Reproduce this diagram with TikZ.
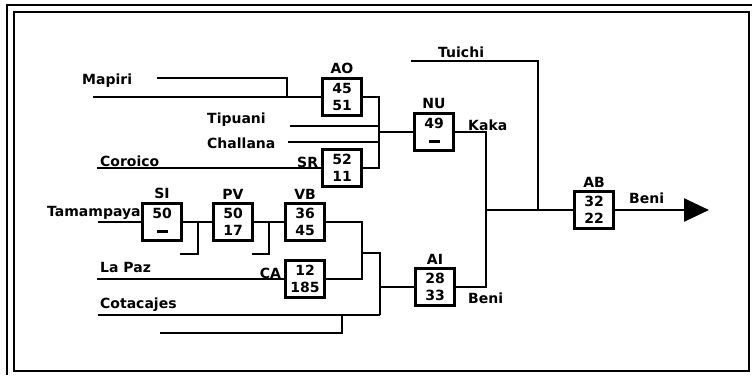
\documentclass[tikz,border=0pt]{standalone}
\usepackage{fontspec}
\newfontfamily\diagfont{DejaVu Sans}
\usetikzlibrary{arrows.meta, calc, positioning}

\begin{document}
\begin{tikzpicture}[x=1pt,y=-1pt,font=\diagfont\bfseries\fontsize{14}{17}\selectfont,
    river/.style={line width=2.5pt},
    gauge/.style={draw,line width=2.5pt,minimum width=39pt,minimum height=37pt,inner sep=0pt,align=center},
    tag/.style={inner sep=0pt}]
\useasboundingbox (0,0) rectangle (752,375);
\draw[line width=2.2pt] (7,375) -- (7,5) -- (752,5);
\draw[line width=2.6pt] (14,12) rectangle (749,371);

%
\node[gauge] (ao) at (342,97) {45\\51};
\node[gauge] (sr) at (342,168) {52\\11};
\node[gauge] (nu) at (434,132) {49\\\rule[3pt]{11pt}{2.2pt}};
\node[gauge] (si) at (162,222) {50\\\rule[3pt]{11pt}{2.2pt}};
\node[gauge] (pv) at (233,222) {50\\17};
\node[gauge] (vb) at (305,222) {36\\45};
\node[gauge] (ca) at (305,279) {12\\185};
\node[gauge] (ai) at (435,287) {28\\33};
\node[gauge] (ab) at (594,210) {32\\22};

%
\node[tag,above=3pt of ao] (aoN) {AO};
\node[tag,left=3pt of sr.west,yshift=6pt] (srN) {SR};
\node[tag,above=3pt of nu] (nuN) {NU};
\node[tag,above=3pt of si] (siN) {SI};
\node[tag,above=3pt of pv] (pvN) {PV};
\node[tag,above=3pt of vb] (vbN) {VB};
\node[tag,left=3pt of ca.west,yshift=6pt] (caN) {CA};
\node[tag,above=3pt of ai] (aiN) {AI};
\node[tag,above=3pt of ab] (abN) {AB};

%
\node[tag,anchor=west] (mapiriL) at (82,81) {Mapiri};
\node[tag,anchor=west] (tipuaniL) at (207,120) {Tipuani};
\node[tag,anchor=west] (challanaL) at (207,143) {Challana};
\node[tag,anchor=west] (coroicoL) at (100,161) {Coroico};
\node[tag,anchor=west] (tamampayaL) at (47,213) {Tamampaya};
\node[tag,anchor=west] (lapazL) at (100,267) {La Paz};
\node[tag,anchor=west] (cotacajesL) at (100,305) {Cotacajes};
\node[tag,anchor=west] (tuichiL) at (438,52) {Tuichi};
\node[tag,anchor=west] (kakaL) at (468,125) {Kaka};
\node[tag,anchor=west] (beniL) at (468,298) {Beni};
\node[tag,anchor=west] (beniL2) at (629,198) {Beni};

%
\coordinate (mapiri) at (93,97);
\coordinate (mapiri2) at (157,78);
\coordinate (mapiriJ) at (287,97);
\coordinate (tipuani) at (290,126);
\coordinate (challana) at (288,142);
\coordinate (coroico) at (97,168);
\coordinate (aoJ) at (379,132);
\coordinate (tuichi) at (411,61);
\coordinate (tuichiJ) at (538,210);
\coordinate (kakaJ) at (486,210);
\coordinate (outlet) at (709,210);
\coordinate (tamampaya) at (98,222);
\coordinate (siB) at (180,254);
\coordinate (siJ) at (198,222);
\coordinate (pvB) at (252,254);
\coordinate (pvJ) at (269,222);
\coordinate (lapaz) at (97,279);
\coordinate (vbJ) at (362,253);
\coordinate (cotJ) at (380,315);
\coordinate (cotacajes) at (98,315);
\coordinate (cotB) at (160,333);
\coordinate (cotBJ) at (342,315);

%
\draw[river] (mapiri) -- (ao.west);
\draw[river] (mapiri2) -| (mapiriJ);
\draw[river] (ao.east) -| (aoJ) |- (sr.east);
\draw[river] (tipuani) -- (tipuani -| aoJ);
\draw[river] (challana) -- (challana -| aoJ);
\draw[river] (coroico) -- (sr.west);
\draw[river] (aoJ) -- (nu.west);
\draw[river] (nu.east) -| (kakaJ) |- (ai.east);
\draw[river] (kakaJ) -- (ab.west);
\draw[river] (tuichi) -| (tuichiJ);
\draw[river,-{Triangle[length=25pt,width=23pt]}] (ab.east) -- (outlet);

%
\draw[river] (tamampaya) -- (si.west);
\draw[river] (si.east) -- (pv.west);
\draw[river] (siB) -| (siJ);
\draw[river] (pv.east) -- (vb.west);
\draw[river] (pvB) -| (pvJ);
\draw[river] (vb.east) -| (vbJ) |- (ca.east);
\draw[river] (lapaz) -- (ca.west);
\draw[river] (vbJ) -| (cotJ);
\draw[river] (cotacajes) -- (cotJ);
\draw[river] (ai.west) -- (ai.west -| cotJ);
\draw[river] (cotB) -| (cotBJ);
\end{tikzpicture}
\end{document}
